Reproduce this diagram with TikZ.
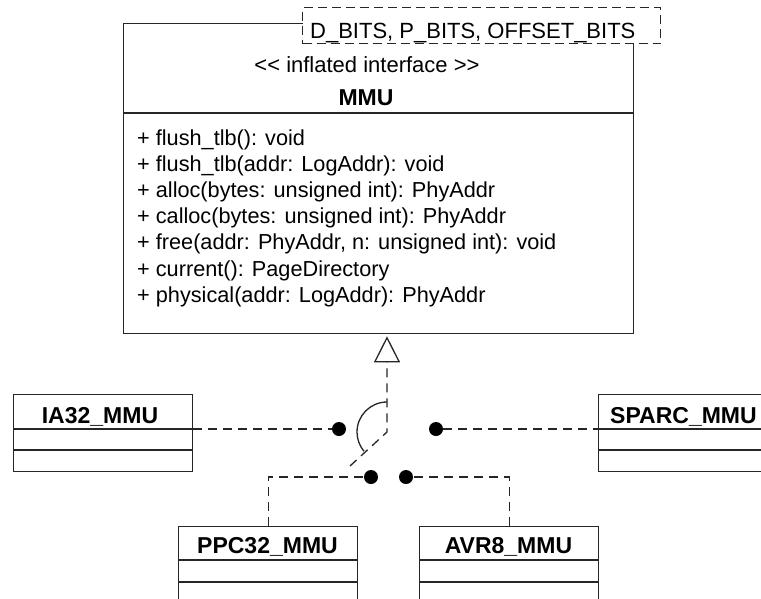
\documentclass[tikz,border=0pt]{standalone}
\usepackage{fontspec}
\setmainfont{Liberation Sans}
\usetikzlibrary{arrows.meta}
\begin{document}
\begin{tikzpicture}[x=1pt,y=1pt,
  line/.style={line width=1.3pt, draw=black!85},
  dashline/.style={line width=1.3pt, draw=black!85, dash pattern=on 9pt off 6pt},
  classbox/.style={draw=black!85, line width=1.3pt, rectangle, inner sep=0pt, anchor=north west, fill=white},
  title/.style={font=\fontsize{23}{26}\selectfont\bfseries, anchor=base, inner sep=0pt},
  txt/.style={font=\fontsize{22}{26}\selectfont, anchor=base west, inner sep=0pt},
  mtxt/.style={font=\fontsize{21.7}{26}\selectfont, anchor=base west, inner sep=0pt},
  dot/.style={circle, fill=black, inner sep=0pt, minimum size=14pt}
]
\useasboundingbox (0,0) rectangle (761,-598);
\clip (0,0) rectangle (761,-598);
\fill[white] (0,0) rectangle (761,-598);

% MMU interface box
\node[classbox, minimum width=510pt, minimum height=309.5pt] (mmu) at (123,-23) {};
\draw[line] ([yshift=-90pt]mmu.north west) -- ([yshift=-90pt]mmu.north east);
\node[draw=black!85, line width=1.3pt, dash pattern=on 9pt off 5pt, fill=white, anchor=north west,
      inner sep=0pt, minimum width=358pt, minimum height=36pt] (tpl) at (302,-7) {};
\node[txt] (tpltxt) at (310,-38) {D\_BITS, P\_BITS, OFFSET\_BITS};
\node[txt, anchor=base] (stereo) at (367,-72) {{<}{<} inflated interface {>}{>}};
\node[title] (mmutitle) at (366,-105) {MMU};
\node[mtxt] (m1) at (137,-145) {+ flush\_tlb(): void};
\node[mtxt] (m2) at (137,-171.2) {+ flush\_tlb(addr: LogAddr): void};
\node[mtxt] (m3) at (137,-197.4) {+ alloc(bytes: unsigned int): PhyAddr};
\node[mtxt] (m4) at (137,-223.6) {+ calloc(bytes: unsigned int): PhyAddr};
\node[mtxt] (m5) at (137,-249.8) {+ free(addr: PhyAddr, n: unsigned int): void};
\node[mtxt] (m6) at (137,-276) {+ current(): PageDirectory};
\node[mtxt] (m7) at (137,-302.2) {+ physical(addr: LogAddr): PhyAddr};

% implementation classes
\node[classbox, minimum width=179pt, minimum height=77pt] (ia32) at (13,-394) {};
\draw[line] ([yshift=-35pt]ia32.north west) -- ([yshift=-35pt]ia32.north east);
\draw[line] ([yshift=-56pt]ia32.north west) -- ([yshift=-56pt]ia32.north east);
\node[title] (ia32t) at (100,-423) {IA32\_MMU};

\node[classbox, minimum width=180pt, minimum height=77pt] (sparc) at (598,-394) {};
\draw[line] ([yshift=-35pt]sparc.north west) -- ([yshift=-35pt]sparc.north east);
\draw[line] ([yshift=-56pt]sparc.north west) -- ([yshift=-56pt]sparc.north east);
\node[title, anchor=base west] (sparct) at (610,-423) {SPARC\_MMU};

\node[classbox, minimum width=179pt, minimum height=77pt] (ppc) at (178,-526) {};
\draw[line] ([yshift=-34pt]ppc.north west) -- ([yshift=-34pt]ppc.north east);
\draw[line] ([yshift=-56pt]ppc.north west) -- ([yshift=-56pt]ppc.north east);
\node[title] (ppct) at (267.5,-553) {PPC32\_MMU};

\node[classbox, minimum width=179pt, minimum height=77pt] (avr) at (419,-526) {};
\draw[line] ([yshift=-34pt]avr.north west) -- ([yshift=-34pt]avr.north east);
\draw[line] ([yshift=-56pt]avr.north west) -- ([yshift=-56pt]avr.north east);
\node[title] (avrt) at (508.5,-553) {AVR8\_MMU};

% connection points
\node[dot] (dl) at (339,-429) {};
\node[dot] (dr) at (436,-429) {};
\node[dot] (dbl) at (371,-477) {};
\node[dot] (dbr) at (406,-477) {};

\draw[dashline] (ia32.east |- dl) -- (dl);
\draw[dashline] (dr) -- (sparc.west |- dr);
\draw[dashline] (ppc.north) |- (dbl);
\draw[dashline] (avr.north) |- (dbr);

% switch with realization arrow
\coordinate (lever) at (350,-466);
\coordinate (pivot) at (387,-432);
\draw[dashline, shorten >=2.5pt, -{Triangle[open, length=26pt, width=26pt, line width=1.3pt]}]
  (lever) -- (pivot) -- (pivot |- mmu.south);
\draw[line] (387,-402) arc[start angle=90, end angle=220, radius=30];
\end{tikzpicture}
\end{document}
